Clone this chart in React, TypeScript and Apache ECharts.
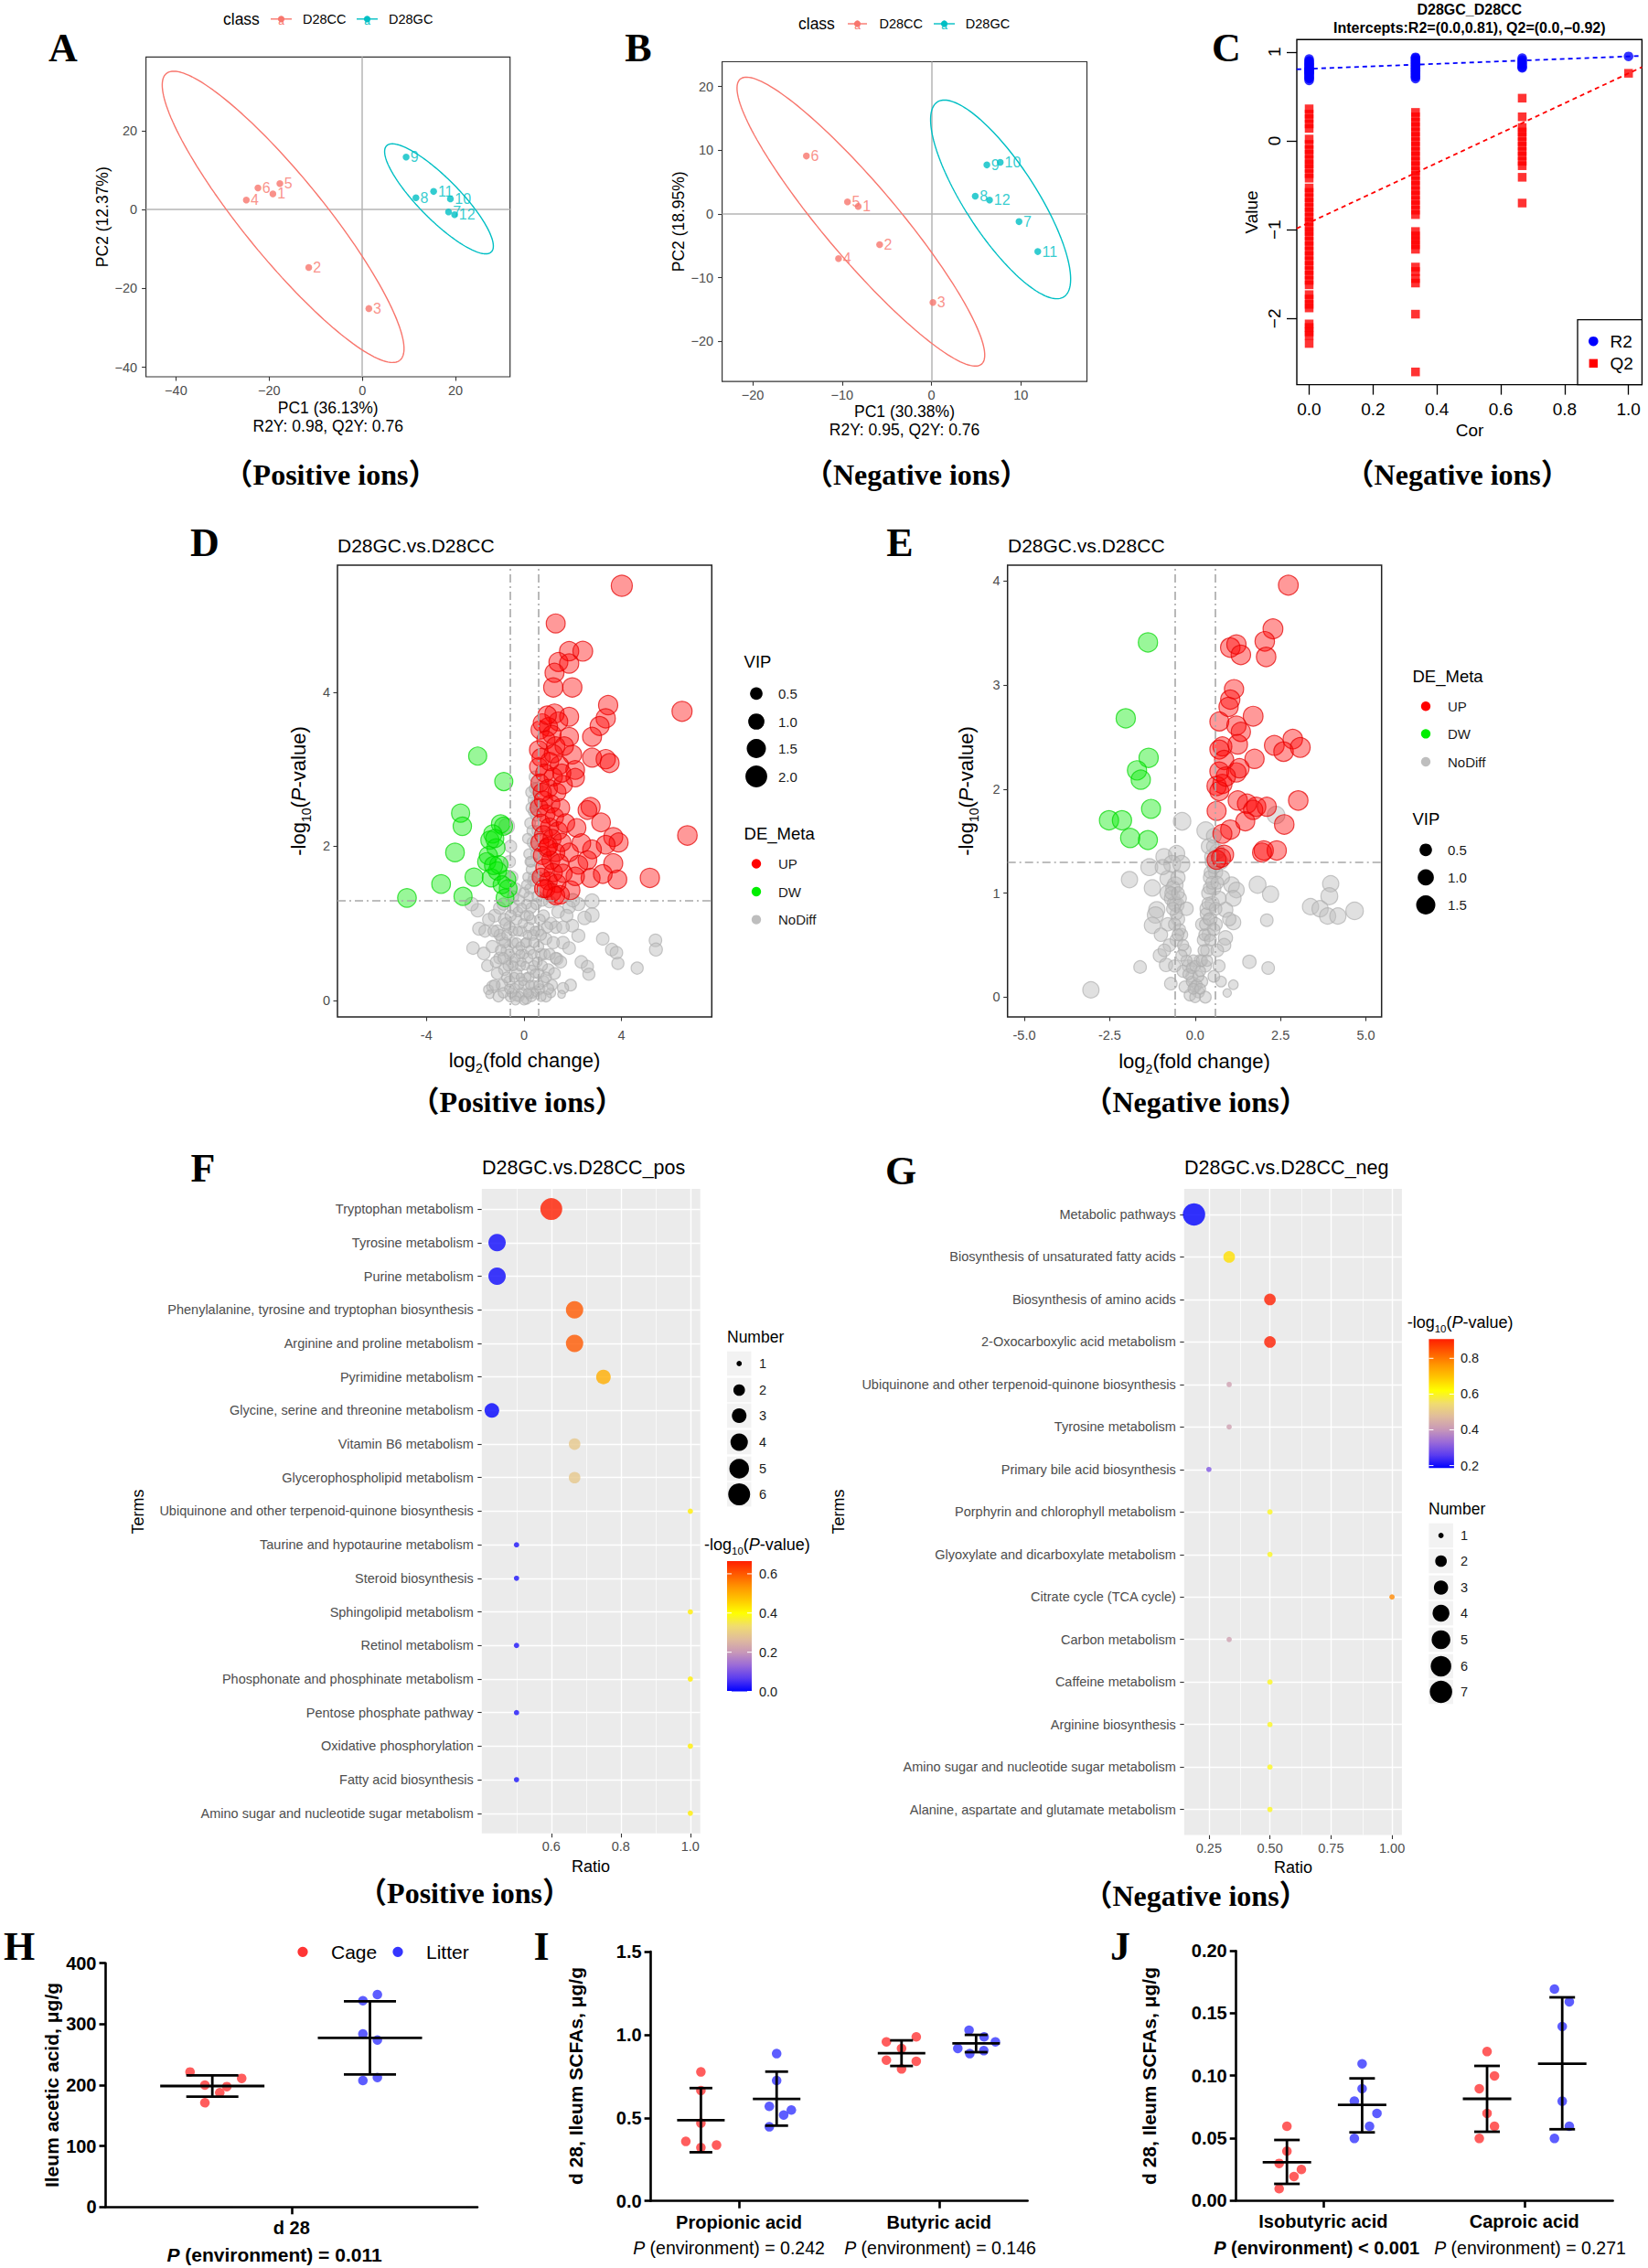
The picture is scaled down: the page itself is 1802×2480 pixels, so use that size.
import React, { useEffect, useRef } from 'react';
import * as echarts from 'echarts';

const SANS = '"Liberation Sans", Arial, Helvetica, sans-serif';
const SERIF = '"Liberation Serif", "Times New Roman", serif';
const CAPF = '"Liberation Serif", "Noto Sans CJK SC", serif';

// ---------------- A: PLS-DA (positive ions) ----------------
const aCC = [[-19.2, 4.0, '1'], [-11.5, -14.7, '2'], [1.4, -25.1, '3'], [-24.9, 2.4, '4'], [-17.7, 6.6, '5'], [-22.4, 5.5, '6']];
const aGC = [[18.5, -0.6, '7'], [11.5, 3.0, '8'], [9.4, 13.3, '9'], [18.9, 2.7, '10'], [15.3, 4.6, '11'], [19.8, -1.3, '12']];
// ellipse: centre x, centre y, axis-1 (dx, dy), axis-2 (dx, dy)
const aEllCC = [-17.0, -1.85, 24.9, -36.5, 7.3, 5.66];
const aEllGC = [16.45, 2.73, 11.2, -13.5, 3.27, 3.5];
const aXTicks = [-40, -20, 0, 20];
const aYTicks = [-40, -20, 0, 20];

// ---------------- B: PLS-DA (negative ions) ----------------
const bCC = [[-8.2, 1.2, '1'], [-5.8, -4.8, '2'], [0.16, -13.9, '3'], [-10.4, -7.0, '4'], [-9.4, 1.9, '5'], [-14.0, 9.1, '6']];
const bGC = [[9.8, -1.2, '7'], [4.9, 2.8, '8'], [6.2, 7.7, '9'], [7.7, 8.1, '10'], [11.9, -5.9, '11'], [6.5, 2.2, '12']];
const bEllCC = [-7.9, -1.2, 13.44, -22.44, 3.4, 3.28];
const bEllGC = [7.74, 2.29, 7.07, -15.3, 3.38, 3.0];
const bXTicks = [-20, -10, 0, 10];
const bYTicks = [-20, -10, 0, 10, 20];

// ---------------- C: permutation test ----------------
const cPermX = [0, 0.333, 0.667, 1];
const cR2 = [
  [0.92, 0.9, 0.89, 0.87, 0.86, 0.85, 0.83, 0.82, 0.81, 0.8, 0.79, 0.78, 0.77, 0.76, 0.75, 0.74, 0.72, 0.71, 0.7, 0.68],
  [0.94, 0.93, 0.91, 0.9, 0.88, 0.87, 0.85, 0.84, 0.82, 0.81, 0.79, 0.78, 0.76, 0.75, 0.73, 0.72, 0.7],
  [0.93, 0.91, 0.89, 0.87, 0.85, 0.83, 0.82],
  [0.95],
];
const cQ2 = [
  [0.36, 0.3, 0.25, 0.19, 0.14, 0.02, -0.04, -0.1, -0.15, -0.21, -0.26, -0.31, -0.37, -0.42, -0.53, -0.58, -0.64, -0.69, -0.75, -0.8, -0.86, -0.91, -0.97, -1.02, -1.07, -1.13, -1.18, -1.24, -1.29, -1.35, -1.4, -1.46, -1.51, -1.57, -1.62, -1.73, -1.78, -1.84, -1.88, -2.06, -2.1, -2.15, -2.19, -2.28],
  [0.32, 0.27, 0.21, 0.16, 0.1, 0.05, -0.01, -0.06, -0.12, -0.17, -0.23, -0.28, -0.34, -0.39, -0.45, -0.5, -0.56, -0.61, -0.67, -0.72, -0.78, -0.83, -1.02, -1.07, -1.12, -1.17, -1.22, -1.42, -1.47, -1.55, -1.6, -1.95, -2.6],
  [0.48, 0.27, 0.15, 0.1, 0.05, -0.01, -0.06, -0.12, -0.17, -0.23, -0.28, -0.41, -0.7],
  [0.76],
];
const cR2Line = [[-0.039, 0.805], [1.042, 0.956]];
const cQ2Line = [[-0.039, -0.986], [1.042, 0.83]];
const cXTicks = [0, 0.2, 0.4, 0.6, 0.8, 1.0];
const cYTicks = [-2, -1, 0, 1];

// ---------------- D: volcano (positive ions)  [log2FC, -log10P, VIP] ----------------
const dUp = [
  [4.01, 5.38, 1.85], [1.3, 4.89, 1.45], [1.85, 4.53, 1.5], [2.41, 4.53, 1.6], [1.41, 4.39, 1.45], [1.85, 4.37, 1.5], [1.25, 4.25, 1.45], [1.2, 4.06, 1.5], [1.98, 4.06, 1.5], [3.45, 3.83, 1.5], [6.48, 3.75, 1.65], [3.35, 3.66, 1.5], [3.1, 3.56, 1.45], [2.79, 3.42, 1.45], [1.25, 3.72, 1.5], [1.85, 3.68, 1.45], [1.41, 3.62, 1.4], [0.66, 3.51, 1.3], [1.85, 3.42, 1.4], [0.6, 3.25, 1.35], [2.79, 3.15, 1.45], [3.35, 3.13, 1.5], [3.51, 3.08, 1.45], [1.98, 3.19, 1.4], [2.1, 2.99, 1.4], [2.1, 2.89, 1.35], [0.6, 3.03, 1.3], [6.7, 2.14, 1.55], [2.73, 2.51, 1.45], [2.6, 2.47, 1.4], [3.16, 2.31, 1.4], [3.66, 2.12, 1.45], [3.88, 2.05, 1.45], [3.35, 2.02, 1.4], [2.79, 1.96, 1.4], [3.66, 1.78, 1.45], [2.6, 1.82, 1.4], [2.23, 1.76, 1.4], [2.73, 1.59, 1.45], [3.83, 1.57, 1.4], [5.16, 1.59, 1.5], [3.23, 1.64, 1.4], [1.91, 1.43, 1.4], [1.48, 1.37, 1.35], [2.16, 2.24, 1.35], [2.35, 2.04, 1.4], [1.85, 1.92, 1.35], [2.1, 1.61, 1.35],
  [0.75, 3.6, 1.3], [1.0, 3.55, 1.35], [1.15, 3.45, 1.3], [0.9, 3.38, 1.3], [1.3, 3.3, 1.35], [0.7, 3.15, 1.3], [1.05, 3.1, 1.3], [1.45, 3.05, 1.35], [0.85, 2.95, 1.3], [1.2, 2.9, 1.3], [0.65, 2.82, 1.25], [1.0, 2.75, 1.3], [1.35, 2.7, 1.3], [1.6, 2.8, 1.35], [0.8, 2.6, 1.3], [1.1, 2.55, 1.3], [0.62, 2.5, 1.25], [1.5, 2.5, 1.3], [0.9, 2.42, 1.3], [1.25, 2.38, 1.3], [0.7, 2.3, 1.25], [1.05, 2.25, 1.3], [1.4, 2.2, 1.3], [0.8, 2.15, 1.25], [1.15, 2.1, 1.3], [0.65, 2.05, 1.25], [1.55, 2.05, 1.3], [0.95, 1.98, 1.3], [1.3, 1.92, 1.3], [0.75, 1.88, 1.25], [1.1, 1.82, 1.3], [1.45, 1.78, 1.3], [0.85, 1.72, 1.25], [1.2, 1.66, 1.3], [0.7, 1.6, 1.25], [1.0, 1.55, 1.25], [1.35, 1.52, 1.3], [0.9, 1.45, 1.25], [1.15, 1.4, 1.25], [1.3, 1.36, 1.3], [1.6, 1.65, 1.3], [1.7, 2.3, 1.35], [1.65, 3.3, 1.35], [0.95, 3.7, 1.35], [1.2, 3.2, 1.3], [0.75, 2.7, 1.3], [1.55, 2.95, 1.3], [1.0, 2.0, 1.3], [0.8, 1.45, 1.25],
];
const dDw = [
  [-1.9, 3.17, 1.3], [-0.83, 2.84, 1.3], [-2.6, 2.43, 1.3], [-2.53, 2.26, 1.35], [-2.83, 1.92, 1.4], [-3.4, 1.51, 1.4], [-4.8, 1.33, 1.4], [-2.5, 1.35, 1.3], [-2.05, 1.6, 1.3], [-0.96, 2.29, 1.35], [-0.84, 2.26, 1.3], [-1.28, 2.16, 1.3], [-1.4, 2.08, 1.3], [-1.15, 1.98, 1.3], [-1.46, 1.88, 1.3], [-1.53, 1.8, 1.3], [-1.03, 1.76, 1.3], [-1.34, 1.59, 1.3], [-0.71, 1.57, 1.3], [-0.65, 1.45, 1.25], [-0.78, 1.33, 1.25], [-1.09, 1.68, 1.3], [-1.2, 2.1, 1.3], [-0.9, 1.5, 1.25], [-1.25, 1.75, 1.3],
];
const dNo = [
  [-0.71, 2.26, 0.9], [2.79, 1.29, 0.7], [2.79, 1.11, 0.7], [2.48, 1.07, 0.6], [2.23, 0.84, 0.55], [3.23, 0.8, 0.5], [3.6, 0.66, 0.5], [3.79, 0.62, 0.5], [3.85, 0.48, 0.45], [4.64, 0.42, 0.45], [5.39, 0.78, 0.5], [5.41, 0.66, 0.55], [2.35, 0.5, 0.5], [2.6, 0.44, 0.45], [2.66, 0.34, 0.45], [1.91, 0.2, 0.4], [1.6, 0.16, 0.35], [1.54, 0.08, 0.05], [1.1, 0.1, 0.2], [-1.28, 0.18, 0.45], [-1.46, 0.14, 0.2], [-1.4, 0.08, 0.1], [-2.09, 0.68, 0.5], [-1.9, 1.17, 0.6], [-1.84, 0.93, 0.55], [-2.15, 1.25, 0.6], [-1.65, 0.61, 0.5], [2.23, 1.25, 0.55], [1.85, 1.21, 0.5], [1.98, 0.97, 0.5], [1.6, 0.75, 0.5], [1.85, 0.68, 0.5], [1.35, 0.54, 0.45], [0.35, 0.1, 0.3],
  [-1.2, 1.1, 0.5], [-1.0, 1.2, 0.45], [-0.8, 1.05, 0.45], [-1.1, 0.9, 0.45], [-0.9, 0.8, 0.4], [-0.6, 0.95, 0.4], [-1.3, 0.7, 0.45], [-0.7, 0.65, 0.4], [-1.0, 0.55, 0.4], [-0.5, 0.5, 0.4], [-0.8, 0.4, 0.4], [-0.3, 0.35, 0.3], [-0.6, 0.25, 0.3], [-0.9, 0.2, 0.4], [-0.4, 0.15, 0.3], [-0.1, 0.1, 0.25], [-0.2, 0.05, 0.25], [0.1, 0.02, 0.25], [0.3, 0.05, 0.25], [0.5, 0.12, 0.25], [0.0, 0.2, 0.25], [0.2, 0.3, 0.25], [-0.15, 0.45, 0.25], [0.15, 0.55, 0.25], [0.4, 0.45, 0.25], [0.6, 0.35, 0.3], [0.8, 0.25, 0.35], [1.0, 0.4, 0.4], [0.7, 0.6, 0.4], [0.9, 0.8, 0.4], [1.2, 0.75, 0.45], [1.1, 1.0, 0.45], [0.8, 1.1, 0.4], [1.4, 1.15, 0.5], [1.3, 0.95, 0.45], [0.6, 0.9, 0.3], [0.35, 0.85, 0.3], [0.1, 0.75, 0.25], [-0.1, 0.9, 0.25], [-0.3, 1.05, 0.3], [-0.45, 1.2, 0.4], [0.05, 1.1, 0.25], [0.3, 1.2, 0.3], [0.5, 1.25, 0.3], [-0.2, 1.3, 0.3], [0.25, 1.45, 0.3], [0.4, 1.6, 0.3], [0.3, 1.8, 0.3], [0.45, 2.0, 0.3], [0.35, 2.2, 0.35], [0.5, 2.4, 0.35], [0.4, 2.6, 0.35], [0.55, 2.75, 0.4], [0.45, 2.9, 0.4], [-0.35, 1.45, 0.4], [-0.5, 1.6, 0.45], [-0.6, 1.8, 0.45], [-0.55, 2.0, 0.45], [-0.45, 0.75, 0.3], [-0.7, 0.3, 0.3], [-1.1, 0.35, 0.4], [-0.25, 0.65, 0.25], [0.65, 0.15, 0.25], [1.25, 0.35, 0.4], [1.5, 0.5, 0.45], [0.9, 0.05, 0.3], [-0.55, 0.05, 0.3], [-1.5, 0.45, 0.4], [-1.6, 0.9, 0.45], [-1.45, 1.05, 0.45], [1.6, 0.95, 0.5], [1.75, 1.1, 0.5], [2.0, 1.3, 0.6], [0.75, 1.3, 0.4], [1.05, 1.28, 0.45], [-0.85, 1.25, 0.45], [-1.05, 0.05, 0.3], [0.2, 0.95, 0.25],
  [-0.3, 0.05, 0.15], [0.0, 0.0, 0.15], [0.2, 0.08, 0.15], [-0.5, 0.1, 0.2], [0.4, 0.2, 0.15], [-0.2, 0.2, 0.15], [0.1, 0.3, 0.15], [-0.4, 0.3, 0.2], [0.3, 0.4, 0.15], [-0.1, 0.5, 0.15], [0.0, 0.6, 0.15], [0.25, 0.65, 0.15], [-0.3, 0.75, 0.2], [0.15, 0.85, 0.15], [-0.05, 1.0, 0.15], [0.3, 1.05, 0.2], [-0.25, 1.15, 0.2], [0.1, 1.25, 0.2], [0.2, 1.35, 0.2], [0.35, 1.55, 0.25], [0.15, 1.6, 0.2], [0.3, 1.7, 0.25], [0.2, 1.9, 0.25], [0.35, 2.05, 0.3], [0.25, 2.3, 0.3], [0.4, 2.45, 0.3], [0.3, 2.7, 0.35], [0.5, 2.55, 0.35], [-0.6, 0.6, 0.25], [-0.8, 0.75, 0.3], [-1.0, 0.85, 0.35], [-0.75, 1.0, 0.35], [-0.55, 1.1, 0.35], [-1.15, 0.5, 0.35], [-1.2, 0.2, 0.3], [-0.85, 0.1, 0.25], [0.55, 0.5, 0.2], [0.75, 0.45, 0.25], [0.6, 0.7, 0.25], [0.85, 0.6, 0.3], [1.05, 0.6, 0.35], [0.95, 0.95, 0.35], [0.65, 1.05, 0.3], [0.55, 1.35, 0.3], [1.15, 0.2, 0.3], [0.7, 0.05, 0.2], [1.3, 0.55, 0.35], [-0.15, 0.3, 0.1], [0.05, 0.45, 0.1], [-0.35, 0.55, 0.15], [0.45, 0.9, 0.2], [-0.15, 0.7, 0.15], [-0.45, 0.9, 0.2], [0.5, 1.9, 0.3], [0.55, 2.2, 0.3], [0.6, 1.6, 0.3],
  [-0.6, 0.15, 0.2], [-0.45, 0.45, 0.2], [-0.25, 0.9, 0.2], [-0.7, 0.85, 0.25], [-0.95, 0.65, 0.3], [-0.35, 0.0, 0.15], [0.25, 0.2, 0.15], [0.45, 0.35, 0.15], [0.35, 0.6, 0.15], [0.05, 0.75, 0.15], [-0.05, 0.25, 0.1], [0.15, 0.1, 0.1], [-0.15, 0.6, 0.15], [0.4, 0.75, 0.2], [0.2, 1.1, 0.2], [-0.1, 1.2, 0.2], [0.0, 1.4, 0.25], [0.1, 1.5, 0.2], [0.25, 1.8, 0.25], [0.15, 2.1, 0.25], [0.3, 2.5, 0.3], [0.45, 2.75, 0.35], [-0.65, 0.45, 0.25], [-0.85, 0.55, 0.3], [-1.25, 0.9, 0.35], [0.7, 0.85, 0.3], [0.9, 0.3, 0.3], [1.0, 0.15, 0.3], [0.6, 0.2, 0.2], [-0.45, 1.35, 0.35],
];
const dXTicks = [-4, 0, 4];
const dYTicks = [0, 2, 4];

// ---------------- E: volcano (negative ions) ----------------
const eUp = [
  [2.73, 3.96, 1.6], [2.28, 3.54, 1.6], [2.04, 3.42, 1.55], [1.03, 3.36, 1.55], [1.21, 3.39, 1.5], [1.34, 3.29, 1.55], [2.08, 3.27, 1.55], [1.14, 2.96, 1.5], [1.03, 2.86, 1.5], [0.98, 2.79, 1.5], [1.7, 2.7, 1.6], [0.71, 2.65, 1.45], [1.21, 2.61, 1.5], [1.34, 2.55, 1.5], [1.25, 2.43, 1.55], [0.8, 2.41, 1.45], [0.71, 2.38, 1.45], [2.32, 2.42, 1.6], [2.86, 2.48, 1.55], [2.59, 2.36, 1.55], [3.08, 2.4, 1.6], [1.74, 2.29, 1.5], [0.85, 2.28, 1.5], [0.71, 2.17, 1.45], [1.21, 2.16, 1.5], [0.63, 2.03, 1.5], [0.8, 2.05, 1.5], [0.71, 1.98, 1.45], [1.25, 1.89, 1.5], [1.52, 1.86, 1.5], [1.79, 1.83, 1.5], [1.7, 1.8, 1.5], [2.1, 1.83, 1.45], [3.02, 1.89, 1.55], [0.63, 1.79, 1.45], [1.47, 1.69, 1.45], [2.61, 1.66, 1.55], [1.03, 1.61, 1.5], [0.8, 1.57, 1.45], [2.01, 1.41, 1.5], [2.39, 1.41, 1.5], [1.96, 1.39, 1.45], [0.85, 1.37, 1.45], [0.63, 1.32, 1.45], [0.76, 1.34, 1.45], [1.3, 2.2, 1.5], [0.9, 2.12, 1.5],
];
const eDw = [
  [-1.38, 3.41, 1.5], [-2.03, 2.68, 1.5], [-1.36, 2.3, 1.5], [-1.7, 2.18, 1.5], [-1.59, 2.09, 1.5], [-1.29, 1.81, 1.45], [-2.52, 1.7, 1.5], [-2.14, 1.7, 1.5], [-1.9, 1.53, 1.5], [-1.38, 1.51, 1.45],
];
const eNo = [
  [-0.38, 1.69, 1.2], [0.31, 1.6, 1.2], [2.37, 1.75, 1.2], [-0.91, 1.35, 1.0], [-0.54, 1.38, 1.0], [-1.34, 1.25, 1.1], [-0.67, 1.28, 1.1], [-0.4, 1.28, 1.1], [-1.92, 1.13, 1.0], [-1.25, 1.05, 1.0], [-0.8, 1.14, 0.9], [-0.58, 1.08, 0.9], [-0.8, 1.0, 0.9], [-0.67, 0.95, 0.9], [-1.12, 0.84, 1.0], [-1.16, 0.79, 1.0], [-1.25, 0.69, 1.0], [-0.54, 0.89, 0.8], [1.83, 1.08, 1.1], [2.21, 0.99, 1.0], [1.07, 1.08, 0.9], [1.21, 1.03, 0.9], [1.12, 0.95, 0.9], [2.1, 0.74, 0.5], [3.97, 1.09, 1.0], [3.93, 0.97, 1.1], [3.38, 0.87, 1.0], [3.66, 0.85, 1.0], [3.88, 0.78, 1.0], [4.18, 0.78, 1.0], [4.67, 0.83, 1.2], [1.59, 0.34, 0.6], [2.14, 0.28, 0.5], [-3.05, 0.07, 1.0], [-1.61, 0.29, 0.5], [-1.03, 0.4, 0.6], [-0.85, 0.31, 0.6], [0.76, 0.15, 0.3], [1.12, 0.12, 0.2], [0.94, 0.04, 0.1], [-0.71, 0.13, 0.5], [0.89, 0.84, 0.8], [1.12, 0.72, 0.8], [0.89, 0.57, 0.7], [0.85, 0.5, 0.6],
  [-0.5, 0.75, 0.6], [-0.4, 0.6, 0.5], [-0.3, 0.45, 0.5], [-0.2, 0.3, 0.45], [-0.1, 0.2, 0.4], [0.0, 0.1, 0.4], [0.1, 0.05, 0.4], [-0.15, 0.02, 0.4], [0.2, 0.15, 0.4], [0.3, 0.3, 0.45], [0.35, 0.45, 0.5], [0.4, 0.6, 0.6], [0.45, 0.75, 0.6], [0.5, 0.9, 0.7], [0.35, 0.85, 0.7], [0.55, 1.05, 0.7], [0.4, 1.0, 0.7], [0.6, 1.2, 0.7], [0.45, 1.15, 0.7], [0.5, 1.35, 0.8], [0.4, 1.45, 0.8], [0.55, 1.55, 0.8], [-0.6, 0.9, 0.7], [-0.65, 1.05, 0.7], [-0.45, 0.95, 0.6], [-0.55, 0.55, 0.5], [-0.35, 0.25, 0.45], [0.25, 0.55, 0.5], [0.15, 0.35, 0.45], [-0.05, 0.35, 0.4], [0.6, 0.7, 0.6], [0.7, 0.95, 0.7], [0.65, 0.45, 0.5], [0.7, 0.3, 0.45], [-0.8, 0.7, 0.6], [-0.75, 0.5, 0.5], [-0.9, 0.45, 0.5], [-0.3, 0.1, 0.4], [0.3, 0.0, 0.4], [0.2, 0.7, 0.5], [0.75, 1.3, 0.8], [0.8, 1.15, 0.7], [0.65, 1.4, 0.8], [-0.5, 1.15, 0.7], [-0.95, 1.25, 0.8], [1.0, 0.75, 0.6], [-1.0, 0.6, 0.6], [-0.25, 0.85, 0.6], [0.55, 0.2, 0.4], [-0.6, 0.3, 0.45],
  [-0.1, 0.15, 0.3], [-0.2, 0.22, 0.3], [-0.25, 0.35, 0.35], [-0.35, 0.5, 0.35], [-0.4, 0.4, 0.35], [-0.45, 0.65, 0.4], [-0.5, 0.6, 0.4], [-0.55, 0.8, 0.45], [-0.6, 0.7, 0.45], [-0.65, 0.85, 0.5], [-0.7, 1.0, 0.5], [-0.5, 1.0, 0.5], [0.0, 0.0, 0.3], [0.05, 0.12, 0.3], [-0.05, 0.08, 0.3], [0.15, 0.08, 0.3], [0.1, 0.2, 0.3], [-0.1, 0.28, 0.3], [0.0, 0.3, 0.3], [0.15, 0.25, 0.3], [0.2, 0.35, 0.35], [0.25, 0.45, 0.35], [0.28, 0.6, 0.4], [0.3, 0.7, 0.4], [0.32, 0.8, 0.4], [0.38, 0.9, 0.45], [0.42, 1.05, 0.45], [0.45, 1.2, 0.5], [0.5, 1.1, 0.5], [0.48, 1.3, 0.5], [0.52, 1.45, 0.5], [0.4, 0.75, 0.4], [0.45, 0.55, 0.4], [0.35, 0.35, 0.35], [0.55, 0.65, 0.45], [0.6, 0.85, 0.5], [0.65, 1.1, 0.5], [0.55, 1.25, 0.5],
];
const eXTicks = [-5, -2.5, 0, 2.5, 5];
const eYTicks = [0, 1, 2, 3, 4];
const fcThreshold = 0.585;
const pThreshold = 1.301;

// ---------------- F: KEGG enrichment (pos) ----------------
const fTerms = ['Tryptophan metabolism', 'Tyrosine metabolism', 'Purine metabolism', 'Phenylalanine, tyrosine and tryptophan biosynthesis', 'Arginine and proline metabolism', 'Pyrimidine metabolism', 'Glycine, serine and threonine metabolism', 'Vitamin B6 metabolism', 'Glycerophospholipid metabolism', 'Ubiquinone and other terpenoid-quinone biosynthesis', 'Taurine and hypotaurine metabolism', 'Steroid biosynthesis', 'Sphingolipid metabolism', 'Retinol metabolism', 'Phosphonate and phosphinate metabolism', 'Pentose phosphate pathway', 'Oxidative phosphorylation', 'Fatty acid biosynthesis', 'Amino sugar and nucleotide sugar metabolism'];
const fRatio = [0.6, 0.444, 0.444, 0.667, 0.667, 0.75, 0.429, 0.667, 0.667, 1, 0.5, 0.5, 1, 0.5, 1, 0.5, 1, 0.5, 1];
const fNumber = [6, 4, 4, 4, 4, 3, 3, 2, 2, 1, 1, 1, 1, 1, 1, 1, 1, 1, 1];
const fLogP = [0.665, 0.01, 0.01, 0.6, 0.6, 0.5, 0.0, 0.29, 0.29, 0.42, 0.02, 0.02, 0.42, 0.02, 0.42, 0.02, 0.42, 0.02, 0.42];
const fColorTicks = [0.0, 0.2, 0.4, 0.6];
const fMajorX = [0.6, 0.8, 1.0];
const fMinorX = [0.5, 0.7, 0.9];

// ---------------- G: KEGG enrichment (neg) ----------------
const gTerms = ['Metabolic pathways', 'Biosynthesis of unsaturated fatty acids', 'Biosynthesis of amino acids', '2-Oxocarboxylic acid metabolism', 'Ubiquinone and other terpenoid-quinone biosynthesis', 'Tyrosine metabolism', 'Primary bile acid biosynthesis', 'Porphyrin and chlorophyll metabolism', 'Glyoxylate and dicarboxylate metabolism', 'Citrate cycle (TCA cycle)', 'Carbon metabolism', 'Caffeine metabolism', 'Arginine biosynthesis', 'Amino sugar and nucleotide sugar metabolism', 'Alanine, aspartate and glutamate metabolism'];
const gRatio = [0.189, 0.333, 0.5, 0.5, 0.333, 0.333, 0.25, 0.5, 0.5, 1, 0.333, 0.5, 0.5, 0.5, 0.5];
const gNumber = [7, 2, 2, 2, 1, 1, 1, 1, 1, 1, 1, 1, 1, 1, 1];
const gLogP = [0.186, 0.66, 0.908, 0.908, 0.42, 0.42, 0.3, 0.6, 0.6, 0.78, 0.42, 0.6, 0.6, 0.6, 0.6];
const gColorTicks = [0.2, 0.4, 0.6, 0.8];
const gMajorX = [0.25, 0.5, 0.75, 1.0];
const gMinorX = [0.375, 0.625, 0.875];

// ---------------- H: ileum acetic acid ----------------
const hCageX = [0.227, 0.267, 0.326, 0.366, 0.307, 0.267];
const hCageY = [221.5, 200, 197.5, 211, 187.5, 171];
const hLitterX = [0.692, 0.731, 0.692, 0.731, 0.692, 0.731];
const hLitterY = [338.5, 348.5, 284, 274, 207.5, 212.5];
const hSummary = [[0.287, 198.5, 181, 216], [0.711, 277.5, 217.5, 337.5]]; // centre, mean, mean-SD, mean+SD
const hCats = ['d 28'];
const hCatPos = [0.5];

// ---------------- I: propionic / butyric ----------------
const iCageX = [0.133, 0.133, 0.133, 0.093, 0.1745, 0.133, 0.7046, 0.6253, 0.6655, 0.6253, 0.7046, 0.6655];
const iCageY = [0.776, 0.664, 0.468, 0.358, 0.336, 0.321, 0.987, 0.957, 0.917, 0.847, 0.84, 0.794];
const iLitterX = [0.334, 0.334, 0.3146, 0.373, 0.3527, 0.3146, 0.8447, 0.8847, 0.9146, 0.8148, 0.8838, 0.8466];
const iLitterY = [0.886, 0.724, 0.569, 0.547, 0.517, 0.446, 1.027, 0.987, 0.957, 0.917, 0.904, 0.886];
const iSummary = [[0.133, 0.486, 0.293, 0.679], [0.334, 0.614, 0.453, 0.778], [0.6655, 0.889, 0.812, 0.966], [0.8634, 0.948, 0.895, 0.999]];
const iCats = ['Propionic acid', 'Butyric acid'];
const iCatPos = [0.234, 0.765];

// ---------------- J: isobutyric / caproic ----------------
const jCageX = [0.1347, 0.1347, 0.1141, 0.1731, 0.1534, 0.1141, 0.666, 0.6857, 0.6454, 0.666, 0.6857, 0.6454];
const jCageY = [0.0594, 0.0394, 0.0296, 0.0247, 0.0191, 0.0093, 0.1193, 0.0998, 0.0895, 0.0697, 0.0594, 0.0496];
const jLitterX = [0.3343, 0.3343, 0.3137, 0.3737, 0.354, 0.3137, 0.8449, 0.8844, 0.8655, 0.8655, 0.8844, 0.8449];
const jLitterY = [0.1095, 0.0895, 0.0795, 0.0697, 0.0594, 0.0496, 0.1694, 0.1592, 0.1394, 0.0795, 0.0594, 0.0496];
const jSummary = [[0.1347, 0.0306, 0.0132, 0.0484], [0.3343, 0.0765, 0.0545, 0.0978], [0.666, 0.0814, 0.055, 0.1078], [0.8655, 0.1095, 0.057, 0.1628]];
const jCats = ['Isobutyric acid', 'Caproic acid'];
const jCatPos = [0.231, 0.765];

// ---------------- styles / layout ----------------
const COL_CC = '#F8766D';
const COL_GC = '#00BFC4';
const CAGE = '#FF3535';
const LITTER = '#3535FF';
const PAL = ['#0000FF', '#5A3CF0', '#9A6AD8', '#C898B8', '#E0BC9C', '#F0DC70', '#FFFF00', '#FFC800', '#FF9600', '#FF5A00', '#FF1E00'];
const sizeF = [0, 5.8, 12.7, 16, 19, 21.5, 24];
const sizeG = [0, 5.8, 12.7, 15.6, 18.5, 20.5, 22.5, 24.5];
const vipSize = (v: number) => Math.sqrt(60 + 255 * v);

const LAY: any = {
  A: { l: 159.6, t: 62.3, r: 557.7, b: 412.0 },
  B: { l: 789.6, t: 67.5, r: 1188.5, b: 417.2 },
  C: { l: 1418.0, t: 43.3, r: 1795.4, b: 420.6 },
  D: { l: 369, t: 618, r: 778.3, b: 1112 },
  E: { l: 1101.7, t: 618, r: 1510.7, b: 1112 },
  F: { l: 526.8, t: 1300.1, r: 765.7, b: 2004.8 },
  G: { l: 1294.8, t: 1300.1, r: 1532.9, b: 2006.5 },
  H: { l: 115.5, t: 2146.7, r: 522, b: 2413.3 },
  I: { l: 711.6, t: 2134, r: 1123.6, b: 2406.7 },
  J: { l: 1351.7, t: 2133.3, r: 1763.6, b: 2406 },
};
const ORDER = ['A', 'B', 'C', 'D', 'E', 'F', 'G', 'H', 'I', 'J'];

function ellipsePts(p: number[]) {
  const out: number[][] = [];
  const n = 160;
  for (let i = 0; i <= n; i++) {
    const t = (i / n) * Math.PI * 2;
    out.push([p[0] + p[2] * Math.cos(t) + p[4] * Math.sin(t), p[1] + p[3] * Math.cos(t) + p[5] * Math.sin(t)]);
  }
  return out;
}

const minusFmt = (v: number) => (v < 0 ? '\u2212' + Math.abs(v) : String(v));

function txt(x: number, y: number, text: string, o: any = {}) {
  const style: any = {
    text,
    fill: o.color || '#000',
    fontSize: o.size || 14,
    fontFamily: o.family || SANS,
    fontWeight: o.weight || 'normal',
    fontStyle: o.italic ? 'italic' : 'normal',
    align: o.align || 'left',
    verticalAlign: o.va || 'middle',
    textAlign: o.align || 'left',
    textVerticalAlign: o.va || 'middle',
  };
  if (o.lh) style.lineHeight = o.lh;
  if (o.rich) style.rich = o.rich;
  return { type: 'text', x, y, rotation: o.rot || 0, silent: true, z: 100, style };
}
const circ = (cx: number, cy: number, r: number, fill: string, extra: any = {}) => ({ type: 'circle', shape: { cx, cy, r }, style: { fill, ...extra }, silent: true, z: 100 });
const rect = (x: number, y: number, w: number, h: number, style: any) => ({ type: 'rect', shape: { x, y, width: w, height: h }, style, silent: true, z: 99 });
const seg = (x1: number, y1: number, x2: number, y2: number, style: any) => ({ type: 'line', shape: { x1, y1, x2, y2 }, style, silent: true, z: 100 });

function ggXAxis(gi: number, min: number, max: number, ticks: number[], fmt: any, margin: number) {
  return {
    type: 'value', gridIndex: gi, min, max,
    axisLine: { show: false, onZero: false },
    axisTick: { show: true, customValues: ticks, length: 4.5, lineStyle: { color: '#333', width: 1.1 } },
    axisLabel: { show: true, customValues: ticks, formatter: fmt, color: '#4D4D4D', fontSize: 14.5, fontFamily: SANS, margin },
    splitLine: { show: false },
  };
}

function prismX(gi: number, pos: number[], names: string[]) {
  const fmt = (v: number) => {
    let k = 0; let best = 1e9;
    pos.forEach((p, i) => { const d = Math.abs(p - v); if (d < best) { best = d; k = i; } });
    return names[k];
  };
  return {
    type: 'value', gridIndex: gi, min: 0, max: 1,
    axisLine: { show: true, onZero: false, lineStyle: { color: '#000', width: 2.6 } },
    axisTick: { show: true, customValues: pos, length: 8, lineStyle: { color: '#000', width: 2.6 } },
    axisLabel: { show: true, customValues: pos, formatter: fmt, color: '#000', fontWeight: 'bold', fontSize: 20, fontFamily: SANS, margin: 13 },
    splitLine: { show: false },
  };
}
function prismY(gi: number, max: number, interval: number, digits: number) {
  return {
    type: 'value', gridIndex: gi, min: 0, max, interval,
    axisLine: { show: true, onZero: false, lineStyle: { color: '#000', width: 2.6 } },
    axisTick: { show: true, length: 7, lineStyle: { color: '#000', width: 2.6 } },
    axisLabel: { formatter: (v: number) => v.toFixed(digits), color: '#000', fontWeight: 'bold', fontSize: 20, fontFamily: SANS, margin: 10 },
    splitLine: { show: false },
  };
}

function errBars(gi: number, data: number[][], hwMean: number, hwWhisk: number) {
  return {
    type: 'custom', xAxisIndex: gi, yAxisIndex: gi, z: 4, silent: true,
    data,
    encode: { x: 0, y: [1, 2, 3] },
    renderItem: (params: any, api: any) => {
      const c = api.coord([api.value(0), api.value(1)]);
      const lo = api.coord([api.value(0), api.value(2)]);
      const hi = api.coord([api.value(0), api.value(3)]);
      const st = { stroke: '#000', lineWidth: 2.8 };
      return {
        type: 'group',
        children: [
          { type: 'line', shape: { x1: c[0] - hwMean, y1: c[1], x2: c[0] + hwMean, y2: c[1] }, style: st },
          { type: 'line', shape: { x1: lo[0], y1: lo[1], x2: hi[0], y2: hi[1] }, style: st },
          { type: 'line', shape: { x1: lo[0] - hwWhisk, y1: lo[1], x2: lo[0] + hwWhisk, y2: lo[1] }, style: st },
          { type: 'line', shape: { x1: hi[0] - hwWhisk, y1: hi[1], x2: hi[0] + hwWhisk, y2: hi[1] }, style: st },
        ],
      };
    },
  };
}

function buildOption() {
  const grids = ORDER.map((k) => {
    const g = LAY[k];
    const base: any = { left: g.l, top: g.t, width: g.r - g.l, height: g.b - g.t, containLabel: false };
    if (k === 'A' || k === 'B') Object.assign(base, { show: true, borderColor: '#333', borderWidth: 1.2, backgroundColor: 'transparent' });
    if (k === 'C') Object.assign(base, { show: true, borderColor: '#000', borderWidth: 1.4, backgroundColor: 'transparent' });
    if (k === 'D' || k === 'E') Object.assign(base, { show: true, borderColor: '#222', borderWidth: 1.5, backgroundColor: 'transparent' });
    if (k === 'F' || k === 'G') Object.assign(base, { show: true, borderWidth: 0, borderColor: 'transparent', backgroundColor: '#EBEBEB' });
    return base;
  });

  const xAxis: any[] = [];
  const yAxis: any[] = [];
  xAxis.push(ggXAxis(0, -46.44, 31.7, aXTicks, minusFmt, 7));
  yAxis.push(ggXAxis(0, -42.4, 38.7, aYTicks, minusFmt, 9.5));
  xAxis.push(ggXAxis(1, -23.43, 17.4, bXTicks, minusFmt, 7));
  yAxis.push(ggXAxis(1, -26.3, 23.9, bYTicks, minusFmt, 9.5));
  xAxis.push({
    type: 'value', gridIndex: 2, min: -0.0386, max: 1.042,
    axisLine: { show: false, onZero: false },
    axisTick: { show: true, customValues: cXTicks, length: 11, lineStyle: { color: '#000', width: 1.3 } },
    axisLabel: { customValues: cXTicks, formatter: (v: number) => v.toFixed(1), color: '#000', fontSize: 19, fontFamily: SANS, margin: 17 },
    splitLine: { show: false },
  });
  yAxis.push({
    type: 'value', gridIndex: 2, min: -2.743, max: 1.139,
    axisLine: { show: false, onZero: false },
    axisTick: { show: true, customValues: cYTicks, length: 11, lineStyle: { color: '#000', width: 1.3 } },
    axisLabel: { customValues: cYTicks, rotate: 90, formatter: minusFmt, color: '#000', fontSize: 19, fontFamily: SANS, margin: 15 },
    splitLine: { show: false },
  });
  xAxis.push(ggXAxis(3, -7.65, 7.7, dXTicks, (v: number) => String(v), 12));
  yAxis.push(ggXAxis(3, -0.2135, 5.646, dYTicks, (v: number) => String(v), 8));
  xAxis.push(ggXAxis(4, -5.49, 5.46, eXTicks, (v: number) => v.toFixed(1), 12));
  yAxis.push(ggXAxis(4, -0.19, 4.152, eYTicks, (v: number) => String(v), 8));
  const fIdx = fTerms.map((_, i) => i + 1);
  xAxis.push(ggXAxis(5, 0.4, 1.0286, fMajorX, (v: number) => v.toFixed(1), 7));
  yAxis.push({ ...ggXAxis(5, 0.4, fTerms.length + 0.6, fIdx, (v: number) => fTerms[Math.round(v) - 1], 9), inverse: true });
  const gIdx = gTerms.map((_, i) => i + 1);
  xAxis.push(ggXAxis(6, 0.1486, 1.0405, gMajorX, (v: number) => v.toFixed(2), 7));
  yAxis.push({ ...ggXAxis(6, 0.4, gTerms.length + 0.6, gIdx, (v: number) => gTerms[Math.round(v) - 1], 9), inverse: true });
  xAxis.push(prismX(7, hCatPos, hCats));
  yAxis.push(prismY(7, 400, 100, 0));
  xAxis.push(prismX(8, iCatPos, iCats));
  yAxis.push(prismY(8, 1.5, 0.5, 1));
  xAxis.push(prismX(9, jCatPos, jCats));
  yAxis.push(prismY(9, 0.2, 0.05, 2));

  const series: any[] = [];
  const pcaScatter = (gi: number, data: any[], color: string, withZero: boolean) => {
    const s: any = {
      type: 'scatter', xAxisIndex: gi, yAxisIndex: gi, data, symbolSize: 7.5, z: 3,
      itemStyle: { color },
      label: { show: true, position: 'right', distance: 1, formatter: (p: any) => p.data[2], color, fontSize: 16, fontFamily: SANS },
    };
    if (withZero) {
      s.markLine = {
        silent: true, z: 1, symbol: ['none', 'none'], label: { show: false },
        lineStyle: { color: '#B5B5B5', width: 1.5, type: 'solid' },
        data: [{ xAxis: 0 }, { yAxis: 0 }],
      };
    }
    return s;
  };
  const ellLine = (gi: number, p: number[], color: string) => ({
    type: 'line', xAxisIndex: gi, yAxisIndex: gi, data: ellipsePts(p), showSymbol: false, symbol: 'none', silent: true, z: 2,
    lineStyle: { color, width: 1.4 },
  });
  series.push(pcaScatter(0, aCC, COL_CC, true));
  series.push(pcaScatter(0, aGC, COL_GC, false));
  series.push(ellLine(0, aEllCC, COL_CC));
  series.push(ellLine(0, aEllGC, COL_GC));
  series.push(pcaScatter(1, bCC, COL_CC, true));
  series.push(pcaScatter(1, bGC, COL_GC, false));
  series.push(ellLine(1, bEllCC, COL_CC));
  series.push(ellLine(1, bEllGC, COL_GC));
  const r2Pts: number[][] = [];
  const q2Pts: number[][] = [];
  cPermX.forEach((x, i) => { cR2[i].forEach((v) => r2Pts.push([x, v])); cQ2[i].forEach((v) => q2Pts.push([x, v])); });
  series.push({ type: 'scatter', xAxisIndex: 2, yAxisIndex: 2, data: r2Pts, symbol: 'circle', symbolSize: 10.5, itemStyle: { color: '#0000FF' }, z: 3 });
  series.push({ type: 'scatter', xAxisIndex: 2, yAxisIndex: 2, data: q2Pts, symbol: 'rect', symbolSize: 9.5, itemStyle: { color: '#FF0000' }, z: 3 });
  series.push({ type: 'line', xAxisIndex: 2, yAxisIndex: 2, data: cR2Line, showSymbol: false, symbol: 'none', z: 4, lineStyle: { color: '#0000FF', width: 1.8, type: [5, 4] } });
  series.push({ type: 'line', xAxisIndex: 2, yAxisIndex: 2, data: cQ2Line, showSymbol: false, symbol: 'none', z: 4, lineStyle: { color: '#FF0000', width: 1.8, type: [5, 4] } });
  const volc = (gi: number, data: number[][], fill: string, border: string, z: number, thr: boolean) => {
    const s: any = {
      type: 'scatter', xAxisIndex: gi, yAxisIndex: gi, data, z,
      symbolSize: (v: number[]) => vipSize(v[2]),
      itemStyle: { color: fill, borderColor: border, borderWidth: 1.2 },
    };
    if (thr) {
      s.markLine = {
        silent: true, symbol: ['none', 'none'], label: { show: false },
        lineStyle: { color: '#A8A8A8', width: 1.6, type: [9, 4, 2, 4] },
        data: [{ xAxis: -fcThreshold }, { xAxis: fcThreshold }, { yAxis: pThreshold }],
      };
    }
    return s;
  };
  series.push(volc(3, dNo, 'rgba(190,190,190,0.62)', 'rgba(172,172,172,0.85)', 2, true));
  series.push(volc(3, dDw, 'rgba(0,235,0,0.5)', 'rgba(0,215,0,0.9)', 3, false));
  series.push(volc(3, dUp, 'rgba(255,0,0,0.5)', 'rgba(228,0,0,0.9)', 3, false));
  series.push(volc(4, eNo, 'rgba(190,190,190,0.6)', 'rgba(172,172,172,0.85)', 2, true));
  series.push(volc(4, eDw, 'rgba(0,235,0,0.5)', 'rgba(0,215,0,0.9)', 3, false));
  series.push(volc(4, eUp, 'rgba(255,0,0,0.5)', 'rgba(228,0,0,0.9)', 3, false));
  const gridLines = (gi: number, major: number[], minor: number[], n: number) => ({
    type: 'scatter', xAxisIndex: gi, yAxisIndex: gi, data: [], z: 1, silent: true,
    markLine: {
      silent: true, z: 1, symbol: ['none', 'none'], label: { show: false }, animation: false,
      lineStyle: { color: '#FFFFFF', width: 1.4, type: 'solid' },
      data: [
        ...minor.map((v) => ({ xAxis: v, lineStyle: { color: '#FFFFFF', width: 0.7, type: 'solid' } })),
        ...major.map((v) => ({ xAxis: v, lineStyle: { color: '#FFFFFF', width: 1.4, type: 'solid' } })),
        ...Array.from({ length: n }, (_, i) => ({ yAxis: i + 1, lineStyle: { color: '#FFFFFF', width: 1.4, type: 'solid' } })),
      ],
    },
  });
  series.push(gridLines(5, fMajorX, fMinorX, fTerms.length));
  const fSeriesIndex = series.length;
  series.push({
    type: 'scatter', xAxisIndex: 5, yAxisIndex: 5, z: 3,
    data: fRatio.map((r, i) => [r, i + 1, fLogP[i], fNumber[i]]),
    symbolSize: (v: number[]) => sizeF[v[3]],
  });
  series.push(gridLines(6, gMajorX, gMinorX, gTerms.length));
  const gSeriesIndex = series.length;
  series.push({
    type: 'scatter', xAxisIndex: 6, yAxisIndex: 6, z: 3,
    data: gRatio.map((r, i) => [r, i + 1, gLogP[i], gNumber[i]]),
    symbolSize: (v: number[]) => sizeG[v[3]],
  });
  const dots = (gi: number, xs: number[], ys: number[], color: string) => ({
    type: 'scatter', xAxisIndex: gi, yAxisIndex: gi, z: 3, symbolSize: 10.5,
    data: xs.map((x, i) => [x, ys[i]]), itemStyle: { color },
  });
  series.push(dots(7, hCageX, hCageY, CAGE));
  series.push(dots(7, hLitterX, hLitterY, LITTER));
  series.push(errBars(7, hSummary, 57, 28.5));
  series.push(dots(8, iCageX, iCageY, CAGE));
  series.push(dots(8, iLitterX, iLitterY, LITTER));
  series.push(errBars(8, iSummary, 26, 12.5));
  series.push(dots(9, jCageX, jCageY, CAGE));
  series.push(dots(9, jLitterX, jLitterY, LITTER));
  series.push(errBars(9, jSummary, 26.5, 14));

  const fMin = 0, fMax = 0.665, gMin = 0.186, gMax = 0.908;
  const visualMap = [
    { type: 'continuous', show: false, seriesIndex: fSeriesIndex, dimension: 2, min: fMin, max: fMax, inRange: { color: PAL } },
    { type: 'continuous', show: false, seriesIndex: gSeriesIndex, dimension: 2, min: gMin, max: gMax, inRange: { color: PAL } },
  ];

  // ---------------- graphic ----------------
  const G: any[] = [];
  const LET = { size: 44, weight: 'bold', family: SERIF, align: 'center' };
  [['A', 69, 52], ['B', 698, 52], ['C', 1341, 52], ['D', 224, 593], ['E', 984, 593], ['F', 222, 1277], ['G', 985, 1280], ['H', 21, 2128], ['I', 592, 2128], ['J', 1225, 2128]]
    .forEach(([t, x, y]: any) => G.push(txt(x, y, t, LET)));
  const CAPO = { size: 32, weight: 'bold', family: CAPF, align: 'center' };
  G.push(txt(361.5, 519, '\uFF08Positive ions\uFF09', CAPO));
  G.push(txt(1002, 519, '\uFF08Negative ions\uFF09', CAPO));
  G.push(txt(1593.7, 519, '\uFF08Negative ions\uFF09', CAPO));
  G.push(txt(565.5, 1205, '\uFF08Positive ions\uFF09', CAPO));
  G.push(txt(1307.5, 1205, '\uFF08Negative ions\uFF09', CAPO));
  G.push(txt(508, 2070, '\uFF08Positive ions\uFF09', CAPO));
  G.push(txt(1307.5, 2073, '\uFF08Negative ions\uFF09', CAPO));

  const pcaLegend = (y: number, xs: number[]) => {
    G.push(txt(xs[0], y, 'class', { size: 17.5 }));
    [[xs[1], xs[2], COL_CC, 'D28CC', xs[3]], [xs[4], xs[5], COL_GC, 'D28GC', xs[6]]].forEach(([x1, x2, c, lab, lx]: any) => {
      G.push(seg(x1, y, x2, y, { stroke: c, lineWidth: 1.4 }));
      G.push(circ((x1 + x2) / 2, y, 3.6, c));
      G.push(txt((x1 + x2) / 2, y + 2, 'a', { size: 12, color: c, align: 'center' }));
      G.push(txt(lx, y, lab, { size: 14.5 }));
    });
  };
  pcaLegend(20.8, [244, 296, 319, 331, 390, 413, 425]);
  pcaLegend(26, [873, 927, 948, 961.5, 1021, 1044, 1055.8]);
  G.push(txt(358.7, 446.4, 'PC1 (36.13%)', { size: 17.5, align: 'center' }));
  G.push(txt(358.7, 465.8, 'R2Y: 0.98, Q2Y: 0.76', { size: 17.5, align: 'center' }));
  G.push(txt(111.6, 237.2, 'PC2 (12.37%)', { size: 17.5, align: 'center', rot: Math.PI / 2 }));
  G.push(txt(989, 450, 'PC1 (30.38%)', { size: 17.5, align: 'center' }));
  G.push(txt(989, 470, 'R2Y: 0.95, Q2Y: 0.76', { size: 17.5, align: 'center' }));
  G.push(txt(742.3, 242.3, 'PC2 (18.95%)', { size: 17.5, align: 'center', rot: Math.PI / 2 }));

  G.push(txt(1606.8, 10.6, 'D28GC_D28CC', { size: 16, weight: 'bold', align: 'center' }));
  G.push(txt(1606.8, 30.6, 'Intercepts:R2=(0.0,0.81), Q2=(0.0,\u22120.92)', { size: 16, weight: 'bold', align: 'center' }));
  G.push(txt(1368, 232, 'Value', { size: 19, align: 'center', rot: Math.PI / 2 }));
  G.push(txt(1607, 470.6, 'Cor', { size: 19, align: 'center' }));
  G.push(rect(1725, 349.7, 70.4, 70.9, { fill: '#fff', stroke: '#000', lineWidth: 1.3 }));
  G.push(circ(1742.3, 373.2, 5.3, '#0000FF'));
  G.push(rect(1737.6, 392.6, 9.4, 9.4, { fill: '#FF0000' }));
  G.push(txt(1760.5, 373.2, 'R2', { size: 19 }));
  G.push(txt(1760.5, 397.3, 'Q2', { size: 19 }));

  const subRich = (sz: number) => ({
    s: { fontSize: sz * 0.64, fontFamily: SANS, verticalAlign: 'bottom' },
    i: { fontSize: sz, fontFamily: SANS, fontStyle: 'italic', lineHeight: sz * 1.4 },
  });
  G.push(txt(369, 596, 'D28GC.vs.D28CC', { size: 21 }));
  G.push(txt(1102, 596, 'D28GC.vs.D28CC', { size: 21 }));
  G.push(txt(573.5, 1159.5, 'log{s|2}(fold change)', { size: 22, align: 'center', lh: 31, rich: subRich(22) }));
  G.push(txt(1306, 1160, 'log{s|2}(fold change)', { size: 22, align: 'center', lh: 31, rich: subRich(22) }));
  G.push(txt(326, 865, '-log{s|10}({i|P}-value)', { size: 22, align: 'center', lh: 31, rich: subRich(22), rot: Math.PI / 2 }));
  G.push(txt(1056, 865, '-log{s|10}({i|P}-value)', { size: 22, align: 'center', lh: 31, rich: subRich(22), rot: Math.PI / 2 }));

  const LEGTXT = '#1A1A1A';
  const vipLegend = (x0: number, ty: number, cx: number, lx: number, vals: number[], ys: number[]) => {
    G.push(txt(x0, ty, 'VIP', { size: 18.5 }));
    vals.forEach((v, i) => {
      G.push(circ(cx, ys[i], vipSize(v) / 2, '#000'));
      G.push(txt(lx, ys[i], v.toFixed(1), { size: 15, color: LEGTXT }));
    });
  };
  const deLegend = (x0: number, ty: number, cx: number, lx: number, ys: number[]) => {
    G.push(txt(x0, ty, 'DE_Meta', { size: 18.5 }));
    [['UP', '#FF0000'], ['DW', '#00EE00'], ['NoDiff', '#BEBEBE']].forEach(([lab, c], i) => {
      G.push(circ(cx, ys[i], 5.2, c));
      G.push(txt(lx, ys[i], lab, { size: 15, color: LEGTXT }));
    });
  };
  vipLegend(813.6, 723.5, 827, 851, [0.5, 1.0, 1.5, 2.0], [758.4, 789, 818.5, 849]);
  deLegend(813.6, 911, 827, 851, [944.5, 975, 1005.6]);
  deLegend(1544.5, 739, 1559, 1583, [772.3, 802.4, 833]);
  vipLegend(1544.5, 895.7, 1559, 1583, [0.5, 1.0, 1.5], [929.3, 959.4, 989.5]);

  G.push(txt(527, 1277, 'D28GC.vs.D28CC_pos', { size: 21.5 }));
  G.push(txt(1295, 1277, 'D28GC.vs.D28CC_neg', { size: 21.5 }));
  G.push(txt(151, 1653, 'Terms', { size: 18, align: 'center', rot: Math.PI / 2 }));
  G.push(txt(917.3, 1653, 'Terms', { size: 18, align: 'center', rot: Math.PI / 2 }));
  G.push(txt(646, 2041, 'Ratio', { size: 18, align: 'center' }));
  G.push(txt(1414, 2042, 'Ratio', { size: 18, align: 'center' }));

  const numLegend = (x0: number, ty: number, keyX: number, lx: number, ys: number[], sizes: number[]) => {
    G.push(txt(x0, ty, 'Number', { size: 17.5 }));
    ys.forEach((y, i) => {
      G.push(rect(keyX, y - 13.3, 26.5, 26.6, { fill: '#F2F2F2' }));
      G.push(circ(keyX + 13.25, y, sizes[i + 1] / 2, '#000'));
      G.push(txt(lx, y, String(i + 1), { size: 14.5, color: LEGTXT }));
    });
  };
  numLegend(795, 1462, 795, 830, [1491, 1520, 1548, 1577, 1606, 1634], sizeF);
  numLegend(1562, 1650, 1562.4, 1597, [1679, 1707, 1736, 1764, 1793, 1822, 1850], sizeG);

  const stops = PAL.map((c, i) => ({ offset: i / (PAL.length - 1), color: c }));
  const colorBar = (tx: number, ty: number, bx: number, by: number, bw: number, bh: number, lx: number, min: number, max: number, ticks: number[]) => {
    G.push(txt(tx, ty, '-log{s|10}({i|P}-value)', { size: 18, lh: 26, rich: subRich(18) }));
    G.push(rect(bx, by, bw, bh, { fill: new echarts.graphic.LinearGradient(0, 1, 0, 0, stops) }));
    ticks.forEach((v) => {
      const y = by + bh - ((v - min) / (max - min)) * bh;
      G.push(seg(bx, y, bx + 5, y, { stroke: '#fff', lineWidth: 1 }));
      G.push(seg(bx + bw - 5, y, bx + bw, y, { stroke: '#fff', lineWidth: 1 }));
      G.push(txt(lx, y, v.toFixed(1), { size: 14.5, color: LEGTXT }));
    });
  };
  colorBar(770, 1689, 795, 1707, 27, 142.5, 830, fMin, fMax, fColorTicks);
  colorBar(1538.7, 1446, 1562.4, 1464.2, 27.5, 141.1, 1597, gMin, gMax, gColorTicks);

  G.push(circ(331, 2134.3, 5.6, CAGE));
  G.push(txt(362, 2134.3, 'Cage', { size: 21 }));
  G.push(circ(435, 2134.3, 5.6, LITTER));
  G.push(txt(466, 2134.3, 'Litter', { size: 21 }));
  G.push(txt(56, 2280, 'Ileum acetic acid, \u03BCg/g', { size: 21, weight: 'bold', align: 'center', rot: Math.PI / 2 }));
  G.push(txt(629, 2270, 'd 28, Ileum SCFAs, \u03BCg/g', { size: 21, weight: 'bold', align: 'center', rot: Math.PI / 2 }));
  G.push(txt(1256, 2270, 'd 28, Ileum SCFAs, \u03BCg/g', { size: 21, weight: 'bold', align: 'center', rot: Math.PI / 2 }));
  const pRichB = (sz: number) => ({ p: { fontSize: sz, fontFamily: SANS, fontWeight: 'bold', fontStyle: 'italic' }, t: { fontSize: sz, fontFamily: SANS, fontWeight: 'bold' } });
  const pRichR = (sz: number) => ({ p: { fontSize: sz, fontFamily: SANS, fontStyle: 'italic' }, t: { fontSize: sz, fontFamily: SANS } });
  G.push(txt(300, 2465, '{p|P}{t| (environment) = 0.011}', { size: 21, align: 'center', rich: pRichB(21) }));
  G.push(txt(797, 2458, '{p|P}{t| (environment) = 0.242}', { size: 19.5, align: 'center', rich: pRichR(19.5) }));
  G.push(txt(1028, 2458, '{p|P}{t| (environment) = 0.146}', { size: 19.5, align: 'center', rich: pRichR(19.5) }));
  G.push(txt(1439.7, 2458.3, '{p|P}{t| (environment) < 0.001}', { size: 20, align: 'center', rich: pRichB(20) }));
  G.push(txt(1673, 2458.3, '{p|P}{t| (environment) = 0.271}', { size: 19.5, align: 'center', rich: pRichR(19.5) }));

  return {
    animation: false,
    backgroundColor: '#ffffff',
    textStyle: { fontFamily: SANS },
    grid: grids,
    xAxis,
    yAxis,
    visualMap,
    series,
    graphic: { elements: G },
  };
}

export default function App() {
  const ref = useRef<HTMLDivElement>(null);
  useEffect(() => {
    if (!ref.current) return;
    const chart = echarts.init(ref.current, null, { renderer: 'svg', width: 1802, height: 2480 });
    chart.setOption(buildOption() as any);
    return () => chart.dispose();
  }, []);
  return <div ref={ref} style={{ position: 'absolute', left: 0, top: 0, width: 1802, height: 2480, background: '#fff' }} />;
}
